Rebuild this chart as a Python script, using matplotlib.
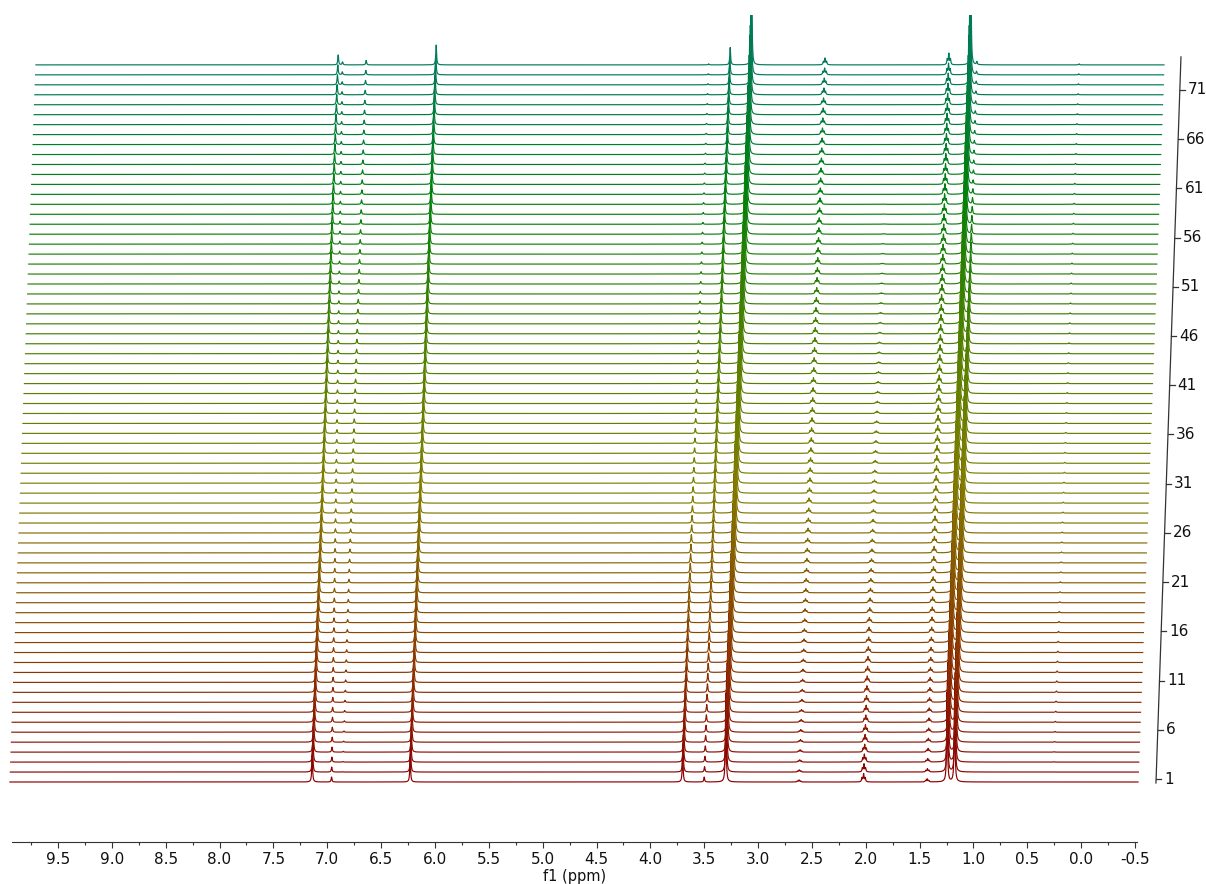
import numpy as np
import matplotlib.pyplot as plt
from matplotlib.colors import LinearSegmentedColormap
from matplotlib.ticker import MultipleLocator, FuncFormatter

# stacked 1H spectra, 73 time points
n_spectra = 73
key_rows = [1, 11, 21, 31, 41, 51, 61, 73]

# peak centres (ppm) in first and last spectrum, multiplicity, heights (in row units) at key rows
peak_ppm_first = [7.14, 6.96, 6.86, 6.23, 3.70, 3.50, 3.30, 2.62, 2.02, 1.43, 1.245, 1.175, 0.26]
peak_ppm_last = [7.14, 7.10, 6.88, 6.23, 3.70, 3.50, 3.30, 2.62, 2.02, 1.47, 1.265, 1.21, 0.26]
peak_mult = [1, 1, 1, 1, 1, 1, 1, 3, 3, 3, 1, 1, 1]
peak_heights = [
    [2.7, 2.3, 2.0, 1.7, 1.5, 1.3, 1.1, 1.0],
    [0.5, 0.5, 0.45, 0.4, 0.35, 0.3, 0.3, 0.3],
    [0.0, 0.25, 0.35, 0.45, 0.45, 0.45, 0.45, 0.45],
    [2.5, 2.4, 2.3, 2.2, 2.1, 2.1, 2.0, 2.0],
    [3.0, 1.6, 1.0, 0.6, 0.4, 0.25, 0.15, 0.1],
    [0.5, 0.9, 1.2, 1.4, 1.5, 1.6, 1.7, 1.75],
    [8.0, 8.0, 8.0, 8.0, 8.0, 8.0, 8.0, 8.0],
    [0.2, 0.3, 0.4, 0.5, 0.55, 0.6, 0.6, 0.65],
    [0.8, 0.6, 0.4, 0.3, 0.2, 0.1, 0.0, 0.0],
    [0.3, 0.45, 0.55, 0.7, 0.8, 0.9, 1.0, 1.1],
    [9.0, 9.0, 9.0, 9.0, 9.0, 9.0, 9.0, 9.0],
    [9.0, 9.0, 9.0, 8.0, 5.0, 1.5, 0.4, 0.3],
    [0.0, 0.15, 0.1, 0.1, 0.1, 0.1, 0.1, 0.1],
]
row_labels = [1, 6, 11, 16, 21, 26, 31, 36, 41, 46, 51, 56, 61, 66, 71]

colors = ['#8b0000', '#8b4500', '#807d00', '#4f8000', '#00800a', '#007a5c']

px_per_ppm = 107.7
row_px = 9.96
tick_px = 9.843
skew = 0.361 / px_per_ppm  # ppm shift per row
half_width = 0.0045
j_coupling = 0.015

cmap = LinearSegmentedColormap.from_list('stack', colors)

fig = plt.figure(figsize=(12.06, 8.84), dpi=100)

# axes holding the spectra, in ppm / row units
ax = fig.add_axes([0, 0, 1, 869 / 884])
ax.set_xlim(9.5 + 58 / px_per_ppm, 9.5 - 1148 / px_per_ppm)
ax.set_ylim((782 - 884) / row_px, (782 - 15) / row_px)
ax.axis('off')

ppm = np.linspace(9.946, -0.528, 14000)

for r in range(n_spectra):
    t = r / (n_spectra - 1)
    y = np.zeros_like(ppm)
    for c0, c1, m, h in zip(peak_ppm_first, peak_ppm_last, peak_mult, peak_heights):
        height = np.interp(r + 1, key_rows, h)
        if height <= 0:
            continue
        c = c0 + (c1 - c0) * t
        if m == 3:
            parts = [(-j_coupling, 0.5), (0.0, 1.0), (j_coupling, 0.5)]
        else:
            parts = [(0.0, 1.0)]
        for off, w in parts:
            y += height * w / (1 + ((ppm - c - off) / half_width) ** 2)
    ax.plot(ppm - skew * r, r + y, color=cmap(t), lw=0.85, solid_joinstyle='round')

# slanted row axis on the right
def axis_x(yv):
    return 9.5 - (1156 + 0.343 * yv - 58) / px_per_ppm

y0, y1 = -0.1, 72.8
ax.plot([axis_x(y0), axis_x(y1)], [y0, y1], color='#333333', lw=0.9)
for n in row_labels:
    yt = (782 - (779 - (n - 1) * tick_px)) / row_px
    xa = axis_x(yt)
    ax.plot([xa, xa - 5 / px_per_ppm], [yt, yt], color='#333333', lw=0.9)
    ax.text(xa - 8 / px_per_ppm, yt, str(n), fontsize=11, va='center', ha='left',
            color='#111111')

# ppm scale at the bottom
sx = fig.add_axes([12 / 1206, 42 / 884, 1125 / 1206, 0.001])
sx.set_xlim(9.5 + 46 / px_per_ppm, 9.5 - 1079 / px_per_ppm)
sx.set_ylim(0, 1)
for s in ['left', 'right', 'top']:
    sx.spines[s].set_visible(False)
sx.spines['bottom'].set_color('#333333')
sx.set_facecolor('none')
sx.set_yticks([])
sx.xaxis.set_major_locator(MultipleLocator(0.5))
sx.xaxis.set_minor_locator(MultipleLocator(0.25))
sx.xaxis.set_major_formatter(FuncFormatter(lambda v, p: f'{0.0 if abs(v) < 1e-9 else v:.1f}'))
sx.tick_params(axis='x', which='major', length=4.5, width=0.8, labelsize=11, pad=2.5,
               colors='#333333', labelcolor='#111111')
sx.tick_params(axis='x', which='minor', length=2.3, width=0.8, colors='#333333')
sx.set_xlabel('f1 (ppm)', fontsize=10.5, labelpad=2, color='#111111')

fig.savefig('out.png', dpi=100)
